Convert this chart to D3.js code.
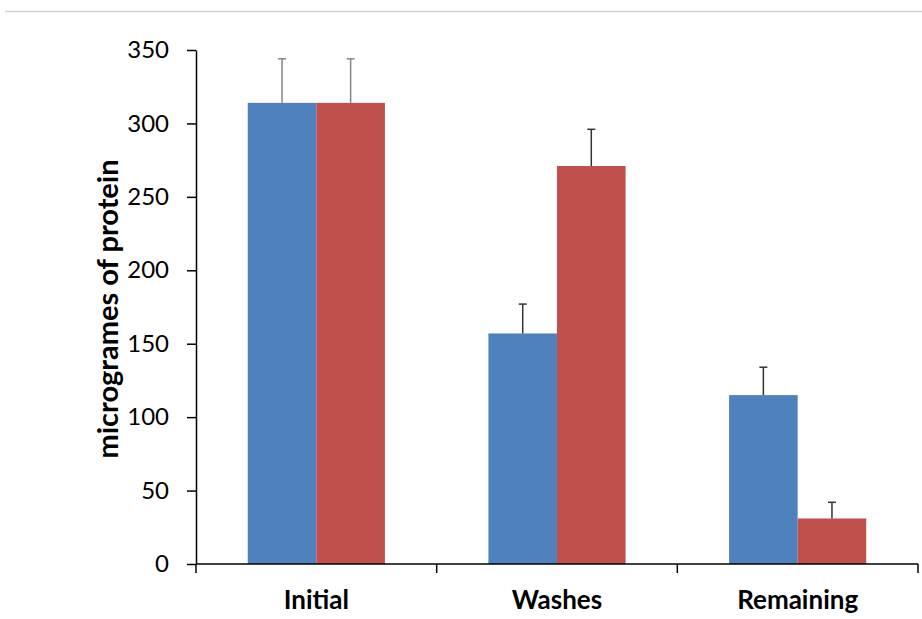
<!DOCTYPE html>
<html>
<head>
<meta charset="utf-8">
<script src="https://cdn.jsdelivr.net/npm/d3@7"></script>
<style>
  html, body { margin: 0; padding: 0; background: #fff; }
  svg { display: block; }
</style>
</head>
<body>
<div id="chart"></div>
<script>
// Protein amounts per stage, two treatments
const categories = ["Initial", "Washes", "Remaining"];
const seriesA = [314, 157, 115];     // blue
const seriesB = [314, 271, 31];      // red
const errorsA = [30, 20, 19];
const errorsB = [30, 25, 11];
const yTicks = [0, 50, 100, 150, 200, 250, 300, 350];
const yLabel = "microgrames of protein";

const W = 922, H = 619;
const margin = { left: 196, right: 4, top: 50, bottom: 55 };
const x0 = margin.left, x1 = W - margin.right;
const yTop = margin.top, yBot = H - margin.bottom;

const svg = d3.select("#chart").append("svg")
  .attr("width", W).attr("height", H);

// thin separator at the top of the frame
svg.append("line")
  .attr("x1", 5).attr("x2", W).attr("y1", 11.5).attr("y2", 11.5)
  .attr("stroke", "#d0d0d0").attr("stroke-width", 1.5);

const x = d3.scaleBand().domain(categories).range([x0, x1])
  .paddingInner(0.43).paddingOuter(0.215);
const xs = d3.scaleBand().domain(["A", "B"]).range([0, x.bandwidth()]);
const y = d3.scaleLinear().domain([0, 350]).range([yBot, yTop]);

const font = "Lato, 'Open Sans', 'DejaVu Sans', sans-serif";

const rows = categories.map((c, i) => ({
  cat: c,
  vals: [
    { key: "A", v: seriesA[i], e: errorsA[i], color: "#4f81bd" },
    { key: "B", v: seriesB[i], e: errorsB[i], color: "#c0504d" }
  ]
}));

const g = svg.selectAll("g.cat").data(rows).join("g")
  .attr("class", "cat")
  .attr("transform", d => `translate(${x(d.cat)},0)`);

g.selectAll("rect").data(d => d.vals).join("rect")
  .attr("x", d => xs(d.key))
  .attr("width", xs.bandwidth())
  .attr("y", d => y(d.v))
  .attr("height", d => y(0) - y(d.v))
  .attr("fill", d => d.color);

// upper error bars
const eb = g.selectAll("g.err").data((d, i) => d.vals.map(v => ({ ...v, ci: i }))).join("g")
  .attr("class", "err")
  .attr("stroke", d => d.ci === 0 ? "#858585" : "#333")
  .attr("stroke-width", 1.5);
eb.append("line")
  .attr("x1", d => xs(d.key) + xs.bandwidth() / 2)
  .attr("x2", d => xs(d.key) + xs.bandwidth() / 2)
  .attr("y1", d => y(d.v))
  .attr("y2", d => y(d.v + d.e));
eb.append("line")
  .attr("x1", d => xs(d.key) + xs.bandwidth() / 2 - 4)
  .attr("x2", d => xs(d.key) + xs.bandwidth() / 2 + 4)
  .attr("y1", d => y(d.v + d.e))
  .attr("y2", d => y(d.v + d.e));

// y axis
const yAxis = svg.append("g")
  .attr("transform", `translate(${x0},0)`)
  .call(d3.axisLeft(y).tickValues(yTicks).tickSize(9).tickPadding(18).tickSizeOuter(0));
yAxis.select(".domain").attr("stroke", "#000").attr("stroke-width", 1.5);
yAxis.selectAll(".tick line").attr("stroke", "#000").attr("stroke-width", 1.5);
yAxis.selectAll(".tick text")
  .attr("font-family", font).attr("font-size", 24).attr("fill", "#000");

// x axis with ticks at category boundaries
const step = x.step();
const bounds = d3.range(categories.length + 1).map(i => x0 + i * step);
svg.append("line")
  .attr("x1", x0).attr("x2", x1).attr("y1", yBot).attr("y2", yBot)
  .attr("stroke", "#000").attr("stroke-width", 1.5);
svg.selectAll("line.xt").data(bounds).join("line")
  .attr("class", "xt")
  .attr("x1", d => d).attr("x2", d => d)
  .attr("y1", yBot).attr("y2", yBot + 9)
  .attr("stroke", "#000").attr("stroke-width", 1.5);
svg.selectAll("text.xl").data(categories).join("text")
  .attr("class", "xl")
  .attr("x", d => x(d) + x.bandwidth() / 2)
  .attr("y", yBot + 45)
  .attr("text-anchor", "middle")
  .attr("font-family", font).attr("font-weight", "bold").attr("font-size", 26)
  .text(d => d);

svg.append("text")
  .attr("transform", `translate(118,${(yTop + yBot) / 2 + 2}) rotate(-90)`)
  .attr("text-anchor", "middle")
  .attr("font-family", font).attr("font-weight", "bold").attr("font-size", 29)
  .text(yLabel);
</script>
</body>
</html>
